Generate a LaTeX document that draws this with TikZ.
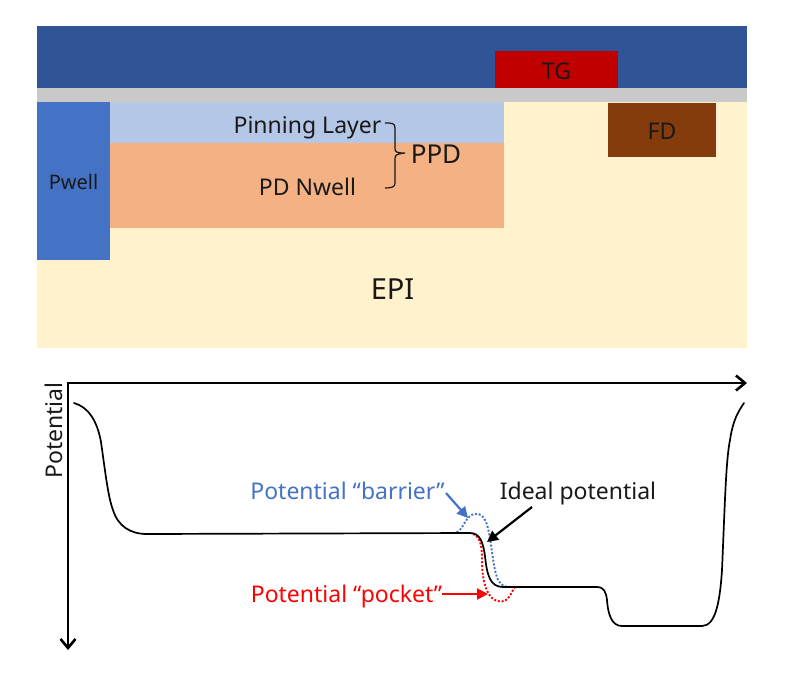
\documentclass[tikz,border=0pt]{standalone}
\usepackage{fontspec}
\setmainfont{Noto Sans}
\usetikzlibrary{arrows.meta}
\definecolor{gateblue}{HTML}{2F5597}
\definecolor{oxgray}{HTML}{C9C9C9}
\definecolor{epicol}{HTML}{FFF2CC}
\definecolor{pwellcol}{HTML}{4472C4}
\definecolor{pincol}{HTML}{B4C7E7}
\definecolor{nwellcol}{HTML}{F4B183}
\definecolor{tgcol}{HTML}{C00000}
\definecolor{fdcol}{HTML}{843C0C}
\tikzset{
    lbl/.style={inner sep=0pt,anchor=base,text=black!90,font=\fontsize{#1}{#1}\selectfont},
    axis/.style={draw,line width=2.6pt,line cap=rect,-{Straight Barb[length=9pt,width=15pt,line width=2.6pt]}},
    curve/.style={line width=1.7pt,line cap=round},
    dots/.style={line width=1.9pt,dash pattern=on 2pt off 1.8pt},
    note/.style={line width=2.2pt,-{Triangle[length=11pt,width=11pt]}},
}
\begin{document}
\begin{tikzpicture}[x=1pt,y=-1pt]
    \useasboundingbox (0,0) rectangle (790,694);
    \def \Layers{ gateblue/37/26/747/88, oxgray/37/88/747/102, epicol/37/102/747/348, pwellcol/37/102/110/260, pincol/110/102/503.5/143, nwellcol/110/143/503.5/228, tgcol/495/51/617.5/88, fdcol/608/102.5/715.5/157}
    \foreach \c / \xa / \ya / \xb / \yb in \Layers{
        \fill[\c] (\xa, \ya) rectangle (\xb, \yb);
    }
    % layer labels
    \def \Labels{ tg/556.5/79/23/TG, fd/662/139/23/FD, pwell/73.5/189/20/Pwell, pin/307.5/133/23/Pinning Layer, nwell/307.5/195/23/PD Nwell, ppd/436/163/26/PPD, epi/392.5/299/29/EPI}
    \foreach \id / \x / \y / \s / \t in \Labels{
        \node[lbl=\s] (\id) at (\x, \y) {\t};
    }
    % brace for the photodiode
    \coordinate (bracetop) at (385,123);
    \coordinate (bracebot) at (385,188);
    \coordinate (bracetip) at (405,153);
    \draw[line width=1.2pt,black!90] (bracetop) .. controls (392,123) and (395,123) .. (395,128) -- (395,148) .. controls (395,152) and (396,153) .. (bracetip) .. controls (396,154) and (395,155) .. (395,159) -- (395,183) .. controls (395,187) and (392,188) .. (bracebot);
    % axes
    \coordinate (origin) at (68,383);
    \coordinate (xend) at (747,383);
    \coordinate (yend) at (68,650);
    \draw[axis] (origin) -- (xend);
    \draw[axis] (origin) -- (yend);
    \node[lbl=23,rotate=90] (potential) at (62,430.5) {Potential};
    % dotted deviations
    \draw[dots,pwellcol] (453,533) .. controls (462,533) and (463,522) .. (470,516) .. controls (476,512) and (482,513) .. (486,522) .. controls (491,535) and (492,560) .. (496,574) .. controls (498,582) and (502,587) .. (508,587);
    \draw[dots,red] (473,534) .. controls (480,537) and (482,545) .. (482,558) .. controls (482,575) and (484,590) .. (492,598) .. controls (498,603) and (505,603) .. (509,597) .. controls (512,593) and (513,589) .. (515,587);
    % ideal curve
    \draw[curve] (74,403) .. controls (88,407) and (97,420) .. (101,442) .. controls (105,470) and (108,497) .. (113,510) .. controls (118,526) and (130,534) .. (147,534) -- (470,533) .. controls (480,533) and (483,542) .. (485,556) .. controls (487,575) and (490,587) .. (503,587) -- (597,587) .. controls (604,587) and (606,592) .. (607,600) .. controls (608,615) and (612,626) .. (622,626) -- (702,626) .. controls (716,626) and (720,600) .. (722,570) .. controls (725,500) and (726,460) .. (730,440) .. controls (733,420) and (738,412) .. (744,403);
    % arrows and their labels
    \node[lbl=23,text=pwellcol] (barrier) at (347.5,499) {Potential “barrier”};
    \node[lbl=23] (ideal) at (578,499) {Ideal potential};
    \node[lbl=23,text=red] (pocket) at (346.5,602) {Potential “pocket”};
    \coordinate (barriertip) at (468,518);
    \coordinate (idealtip) at (487,542);
    \coordinate (pockettip) at (488,594);
    \coordinate (barriertail) at (446,493);
    \coordinate (idealtail) at (532,507);
    \draw[note,pwellcol] (barriertail) -- (barriertip);
    \draw[note,black] (idealtail) -- (idealtip);
    \draw[note,red] (pocket.east |- pockettip) -- (pockettip);
\end{tikzpicture}
\end{document}
